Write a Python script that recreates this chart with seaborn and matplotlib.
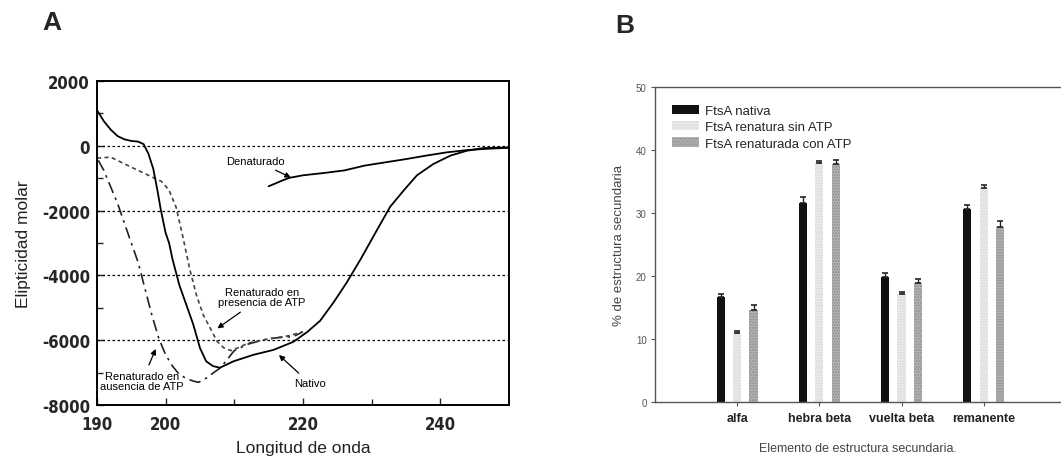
import numpy as np
import pandas as pd
import matplotlib
matplotlib.use("Agg")
import matplotlib.pyplot as plt
from matplotlib.patches import Patch
from matplotlib.ticker import MultipleLocator, FixedLocator
import seaborn as sns

# ---------------- Panel A: CD spectra ----------------
nativo_x = [190, 191, 192, 193, 194, 195, 196, 196.8, 197.5, 198.2, 198.8, 199.3, 200, 200.5,
            201, 202, 203, 204, 205, 205.9, 206.9, 207.9, 209.9, 212.8, 215.7, 218.6, 220.6,
            222.5, 224.5, 226.4, 228.4, 230.8, 232.7, 234.7, 236.6, 239, 241.5, 243.9, 246.3, 250]
nativo_y = [1100, 760, 500, 300, 200, 150, 130, 50, -250, -710, -1370, -1980, -2690, -3000,
            -3500, -4300, -4900, -5500, -6240, -6650, -6800, -6850, -6650, -6450, -6300, -6050, -5750,
            -5400, -4820, -4210, -3500, -2590, -1880, -1370, -910, -560, -300, -150, -70, -50]

presencia_x = [190, 192, 195, 198, 199.4, 200.5, 201.5, 202.5, 203.5, 204.5, 205.5, 206.5,
               207.5, 208.5, 209.5, 210.5, 212, 215, 218, 220]
presencia_y = [-380, -350, -660, -960, -1100, -1370, -1880, -2800, -3800, -4620, -5230, -5630,
               -6040, -6240, -6320, -6240, -6090, -5960, -5860, -5740]

ausencia_x = [190.2, 191, 192, 193, 194, 195, 196, 197, 198, 199, 200, 201, 202, 203, 204,
              204.8, 206, 207, 208, 210, 212, 214.8, 216.5, 218.6, 220]
ausencia_y = [-450, -760, -1270, -1780, -2390, -3000, -3600, -4420, -5230, -5940, -6450, -6800,
              -7060, -7180, -7260, -7300, -7160, -7000, -6850, -6320, -6120, -5960, -5920, -5890, -5740]

desnat_x = [215, 217, 218, 220, 223, 226, 229, 232, 235, 238, 241, 244, 247, 250]
desnat_y = [-1250, -1070, -990, -910, -840, -760, -610, -510, -410, -300, -200, -130, -90, -60]

# ---------------- Panel B: secondary structure ----------------
elementos = ["alfa", "hebra beta", "vuelta beta", "remanente"]
series = ["FtsA nativa", "FtsA renatura sin ATP", "FtsA renaturada con ATP"]
val_nativa = [16.6, 31.6, 19.8, 30.7]
val_sin_atp = [11.0, 37.9, 17.2, 34.0]
val_con_atp = [14.6, 37.7, 18.9, 27.7]
err_nativa = [0.5, 0.9, 0.7, 0.5]
err_sin_atp = [0.3, 0.3, 0.3, 0.4]
err_con_atp = [0.8, 0.7, 0.7, 1.1]

sns.set_theme(style="white")
plt.rcParams["font.family"] = ["Liberation Sans", "DejaVu Sans"]
plt.rcParams["axes.unicode_minus"] = False

fig = plt.figure(figsize=(10.61, 4.60), dpi=100)
axA = fig.add_axes([0.0914, 0.1174, 0.3883, 0.7043])
axB = fig.add_axes([0.6173, 0.1239, 0.3827, 0.6848])

# --- panel A drawing ---
for yv in [0, -2000, -4000, -6000]:
    axA.axhline(yv, color="black", lw=0.9, ls=(0, (2, 2)), zorder=1)

sns.lineplot(x=desnat_x, y=desnat_y, ax=axA, color="black", lw=1.3, sort=False)
sns.lineplot(x=ausencia_x, y=ausencia_y, ax=axA, color="#222222", lw=1.2, sort=False,
             linestyle=(0, (7, 3, 1.5, 3)))
sns.lineplot(x=presencia_x, y=presencia_y, ax=axA, color="#444444", lw=1.2, sort=False,
             linestyle=(0, (2.5, 2)))
sns.lineplot(x=nativo_x, y=nativo_y, ax=axA, color="black", lw=1.3, sort=False)

axA.set_xlim(190, 250)
axA.set_ylim(-8000, 2000)
axA.xaxis.set_major_locator(FixedLocator([190, 200, 220, 240]))
axA.xaxis.set_minor_locator(FixedLocator([210, 230]))
axA.yaxis.set_major_locator(MultipleLocator(2000))
axA.yaxis.set_minor_locator(MultipleLocator(1000))
axA.tick_params(axis="both", which="both", direction="in", bottom=True, left=True,
                top=False, right=False)
axA.tick_params(which="major", length=5, width=1)
axA.tick_params(which="minor", length=4, width=1)
axA.tick_params(axis="x", which="major", pad=7)
axA.tick_params(axis="y", which="major", pad=5)
for lab in axA.get_xticklabels() + axA.get_yticklabels():
    lab.set_family(["DejaVu Sans"])
    lab.set_fontstretch("condensed")
    lab.set_fontweight("bold")
    lab.set_fontsize(12)
for s in axA.spines.values():
    s.set_color("black")
    s.set_linewidth(1.4)
axA.set_xlabel("Longitud de onda", fontsize=12.5, color="#222222")
axA.set_ylabel("Elipticidad molar", fontsize=12.5, color="#222222")
axA.xaxis.set_label_coords(0.5, -0.108)
axA.yaxis.set_label_coords(-0.16, 0.5)

ann_kw = dict(fontsize=8, ha="center", va="center", color="black",
              arrowprops=dict(arrowstyle="-|>", color="black", lw=0.9, mutation_scale=8))
axA.annotate("Denaturado", xy=(218.6, -1015), xytext=(213.1, -460), **ann_kw)
axA.annotate("Renaturado en\npresencia de ATP", xy=(207.2, -5685), xytext=(214.0, -4670),
             linespacing=1.05, **ann_kw)
axA.annotate("Renaturado en\nausencia de ATP", xy=(198.7, -6190), xytext=(196.6, -7260),
             linespacing=1.05, **ann_kw)
axA.annotate("Nativo", xy=(216.2, -6400), xytext=(221.0, -7330), **ann_kw)

# --- panel B drawing ---
df = pd.DataFrame({
    "elemento": elementos * 3,
    "serie": [series[0]] * 4 + [series[1]] * 4 + [series[2]] * 4,
    "valor": val_nativa + val_sin_atp + val_con_atp,
})
colores = ["#111111", "#ececec", "#b4b4b4"]
hatch_col = ["#111111", "#d6d6d6", "#8e8e8e"]
sns.barplot(data=df, x="elemento", y="valor", hue="serie", hue_order=series,
            order=elementos, palette=colores, width=0.6, gap=0.5, errorbar=None,
            legend=False, ax=axB, saturation=1)

errores = [err_nativa, err_sin_atp, err_con_atp]
bar_groups = list(axB.containers)
for k, cont in enumerate(bar_groups):
    for bar, e in zip(cont, errores[k]):
        bar.set_edgecolor(hatch_col[k])
        bar.set_linewidth(0)
        if k > 0:
            bar.set_hatch("......")
        cx = bar.get_x() + bar.get_width() / 2
        axB.errorbar(cx, bar.get_height(), yerr=[[0], [e]], fmt="none",
                     ecolor="#222222", elinewidth=1.0, capsize=2.2, capthick=1.2)

axB.set_ylim(0, 50)
axB.set_xlim(-1.0, 3.94)
axB.yaxis.set_major_locator(MultipleLocator(10))
axB.tick_params(axis="y", which="major", left=True, length=3, width=0.8, labelsize=7,
                labelcolor="#555555", color="#555555", pad=3)
axB.tick_params(axis="x", which="major", bottom=True, length=3, width=0.8,
                color="#555555", pad=4)
for lab in axB.get_xticklabels():
    lab.set_fontsize(9)
    lab.set_fontweight("bold")
    lab.set_color("#222222")
for name, s in axB.spines.items():
    s.set_color("#555555")
    s.set_linewidth(1.0)
axB.spines["right"].set_visible(False)
axB.set_xlabel("Elemento de estructura secundaria.", fontsize=9, color="#444444", labelpad=13)
axB.set_ylabel("% de estructura secundaria", fontsize=9.5, color="#444444", labelpad=8)

handles = [Patch(facecolor=colores[i], edgecolor=hatch_col[i], linewidth=0,
                 hatch=None if i == 0 else "......") for i in range(3)]
axB.legend(handles, series, loc="upper left", bbox_to_anchor=(0.03, 0.96), frameon=False,
           fontsize=9.5, handlelength=2.0, handleheight=0.7, handletextpad=0.5,
           labelspacing=0.3, borderaxespad=0)

fig.text(0.040, 0.949, "A", fontsize=19, fontweight="bold", ha="left", va="center")
fig.text(0.580, 0.943, "B", fontsize=19, fontweight="bold", ha="left", va="center")

fig.savefig("out.png", dpi=100, facecolor="white")
